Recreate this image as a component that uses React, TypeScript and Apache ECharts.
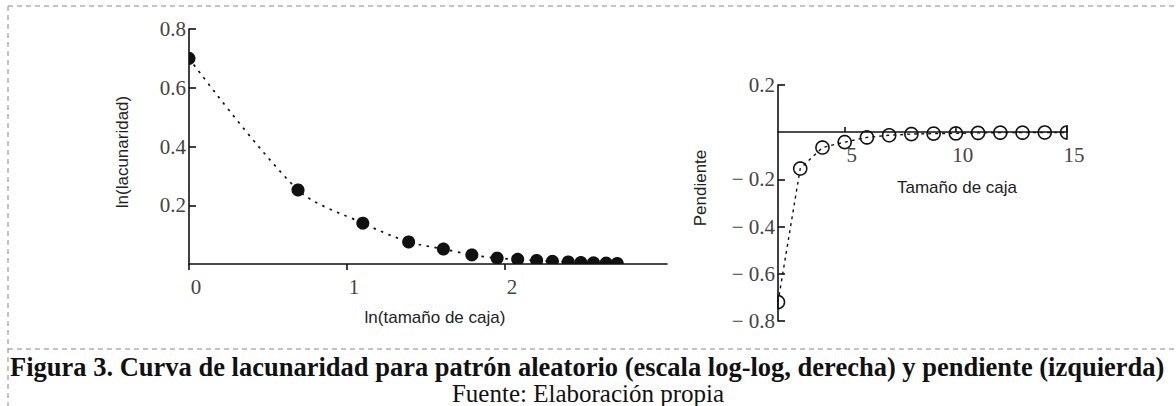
import React, { useEffect, useRef } from "react";
import * as echarts from "echarts";

// Left chart: ln(box size) vs ln(lacunarity)
const lnBoxSize = [0, 0.69, 1.10, 1.39, 1.61, 1.79, 1.95, 2.08, 2.20, 2.30, 2.40, 2.48, 2.56, 2.64, 2.71];
const lnLacunarity = [0.70, 0.252, 0.139, 0.075, 0.051, 0.031, 0.02, 0.016, 0.012, 0.009, 0.007, 0.005, 0.004, 0.003, 0.002];
const leftXTicks = [0, 1, 2];
const leftYTicks = [0.2, 0.4, 0.6, 0.8];

// Right chart: box size vs slope
const boxSize = [2, 3, 4, 5, 6, 7, 8, 9, 10, 11, 12, 13, 14, 15];
const slope = [-0.72, -0.154, -0.065, -0.042, -0.022, -0.013, -0.008, -0.006, -0.005, -0.003, -0.002, -0.002, -0.001, -0.001];
const rightXTicks = [5, 10, 15];
const rightYTicks = [-0.8, -0.6, -0.4, -0.2, 0.2];

const caption = "Figura 3. Curva de lacunaridad para patrón aleatorio (escala log-log, derecha) y pendiente (izquierda)";
const source = "Fuente: Elaboración propia";

const SERIF = "'Liberation Serif', 'Times New Roman', serif";
const SANS = "'Liberation Sans', Arial, sans-serif";
const AXIS_COLOR = "#111";
const LABEL_COLOR = "#444";

const clamp = (v: number, lo: number, hi: number) => Math.max(lo, Math.min(hi, v));

// circle marker clipped to the plotting rectangle
function clippedCircle(params: any, api: any, r: number, style: any) {
  const c = params.coordSys;
  const p = api.coord([api.value(0), api.value(1)]);
  const pts: number[][] = [];
  const n = 48;
  for (let k = 0; k < n; k++) {
    const a = (k / n) * Math.PI * 2;
    pts.push([
      clamp(p[0] + r * Math.cos(a), c.x, c.x + c.width),
      clamp(p[1] + r * Math.sin(a), c.y, c.y + c.height),
    ]);
  }
  return { type: "polygon", shape: { points: pts }, style };
}

export default function App() {
  const ref = useRef<HTMLDivElement>(null);
  useEffect(() => {
    if (!ref.current) return;
    const chart = echarts.init(ref.current, undefined, { renderer: "svg" });
    const leftData = lnBoxSize.map((x, i) => [x, lnLacunarity[i]]);
    const rightData = boxSize.map((x, i) => [x, slope[i]]);

    const axisLine = { lineStyle: { color: AXIS_COLOR, width: 1.6 } };
    const tickLabel = { color: LABEL_COLOR, fontFamily: SERIF, fontSize: 21 };

    const dash = (x1: number, y1: number, x2: number, y2: number) => ({
      type: "line",
      shape: { x1, y1, x2, y2 },
      style: { stroke: "#888", lineWidth: 1, lineDash: [5, 4] },
      silent: true,
    });

    chart.setOption({
      animation: false,
      grid: [
        { left: 189, top: 29, width: 478, height: 235 },
        { left: 778, top: 85, width: 289, height: 236 },
      ],
      xAxis: [
        {
          gridIndex: 0,
          type: "value",
          min: 0,
          max: 3.025,
          axisLine,
          splitLine: { show: false },
          axisTick: { show: true, length: 6, customValues: leftXTicks, lineStyle: { color: AXIS_COLOR, width: 1.6 } },
          axisLabel: { ...tickLabel, margin: 12, padding: [0, 0, 0, 14], customValues: leftXTicks },
        },
        {
          gridIndex: 1,
          type: "value",
          min: 2,
          max: 15,
          offset: -189,
          axisLine: { ...axisLine, onZero: false },
          splitLine: { show: false },
          axisTick: { show: true, inside: true, length: 5, customValues: rightXTicks, lineStyle: { color: AXIS_COLOR, width: 1.6 } },
          axisLabel: { ...tickLabel, margin: 12, padding: [0, 0, 0, 14], customValues: rightXTicks },
        },
      ],
      yAxis: [
        {
          gridIndex: 0,
          type: "value",
          min: 0,
          max: 0.8,
          axisLine: { ...axisLine, show: true },
          splitLine: { show: false },
          axisTick: { show: true, inside: true, length: 7, customValues: leftYTicks, lineStyle: { color: AXIS_COLOR, width: 1.6 } },
          axisLabel: { ...tickLabel, margin: 3, customValues: leftYTicks, formatter: (v: number) => v.toFixed(1) },
        },
        {
          gridIndex: 1,
          type: "value",
          min: -0.8,
          max: 0.2,
          axisLine: { ...axisLine, show: true, onZero: false },
          splitLine: { show: false },
          axisTick: { show: true, inside: true, length: 7, customValues: rightYTicks, lineStyle: { color: AXIS_COLOR, width: 1.6 } },
          axisLabel: {
            ...tickLabel,
            margin: 3,
            customValues: rightYTicks,
            formatter: (v: number) => (v < 0 ? "\u2212 " + Math.abs(v).toFixed(1) : v.toFixed(1)),
          },
        },
      ],
      series: [
        {
          type: "line",
          xAxisIndex: 0,
          yAxisIndex: 0,
          data: leftData,
          smooth: 0.3,
          showSymbol: false,
          lineStyle: { color: "#111", width: 1.7, type: [2.5, 5.5] },
          silent: true,
        },
        {
          type: "custom",
          xAxisIndex: 0,
          yAxisIndex: 0,
          data: leftData,
          encode: { x: 0, y: 1 },
          renderItem: (params: any, api: any) => clippedCircle(params, api, 6.5, { fill: "#111" }),
          silent: true,
        },
        {
          type: "line",
          xAxisIndex: 1,
          yAxisIndex: 1,
          data: rightData,
          showSymbol: false,
          lineStyle: { color: "#111", width: 1.4, type: [3, 4] },
          silent: true,
        },
        {
          type: "custom",
          xAxisIndex: 1,
          yAxisIndex: 1,
          data: rightData,
          encode: { x: 0, y: 1 },
          renderItem: (params: any, api: any) =>
            clippedCircle(params, api, 6.5, { fill: "none", stroke: "#111", lineWidth: 1.6 }),
          silent: true,
        },
      ],
      graphic: [
        dash(8, 6, 1176, 6),
        dash(8, 6, 8, 406),
        dash(8, 349, 1176, 349),
        {
          type: "text",
          x: 122,
          y: 152,
          rotation: Math.PI / 2,
          style: { text: "ln(lacunaridad)", fill: "#222", font: `17px ${SANS}`, align: "center", verticalAlign: "middle" },
        },
        {
          type: "text",
          x: 435,
          y: 317,
          style: { text: "ln(tamaño de caja)", fill: "#222", font: `17px ${SANS}`, align: "center", verticalAlign: "middle" },
        },
        {
          type: "text",
          x: 700,
          y: 188,
          rotation: Math.PI / 2,
          style: { text: "Pendiente", fill: "#222", font: `17px ${SANS}`, align: "center", verticalAlign: "middle" },
        },
        {
          type: "text",
          x: 957,
          y: 187,
          style: { text: "Tamaño de caja", fill: "#222", font: `17px ${SANS}`, align: "center", verticalAlign: "middle" },
        },
        {
          type: "text",
          x: 10,
          y: 367,
          style: { text: caption, fill: "#111", font: `bold 26.5px ${SERIF}`, align: "left", verticalAlign: "middle" },
        },
        {
          type: "text",
          x: 588,
          y: 393,
          style: { text: source, fill: "#111", font: `25px ${SERIF}`, align: "center", verticalAlign: "middle" },
        },
      ],
    });
    return () => chart.dispose();
  }, []);
  return <div ref={ref} style={{ position: "absolute", left: 0, top: 0, width: 1176, height: 406 }} />;
}
